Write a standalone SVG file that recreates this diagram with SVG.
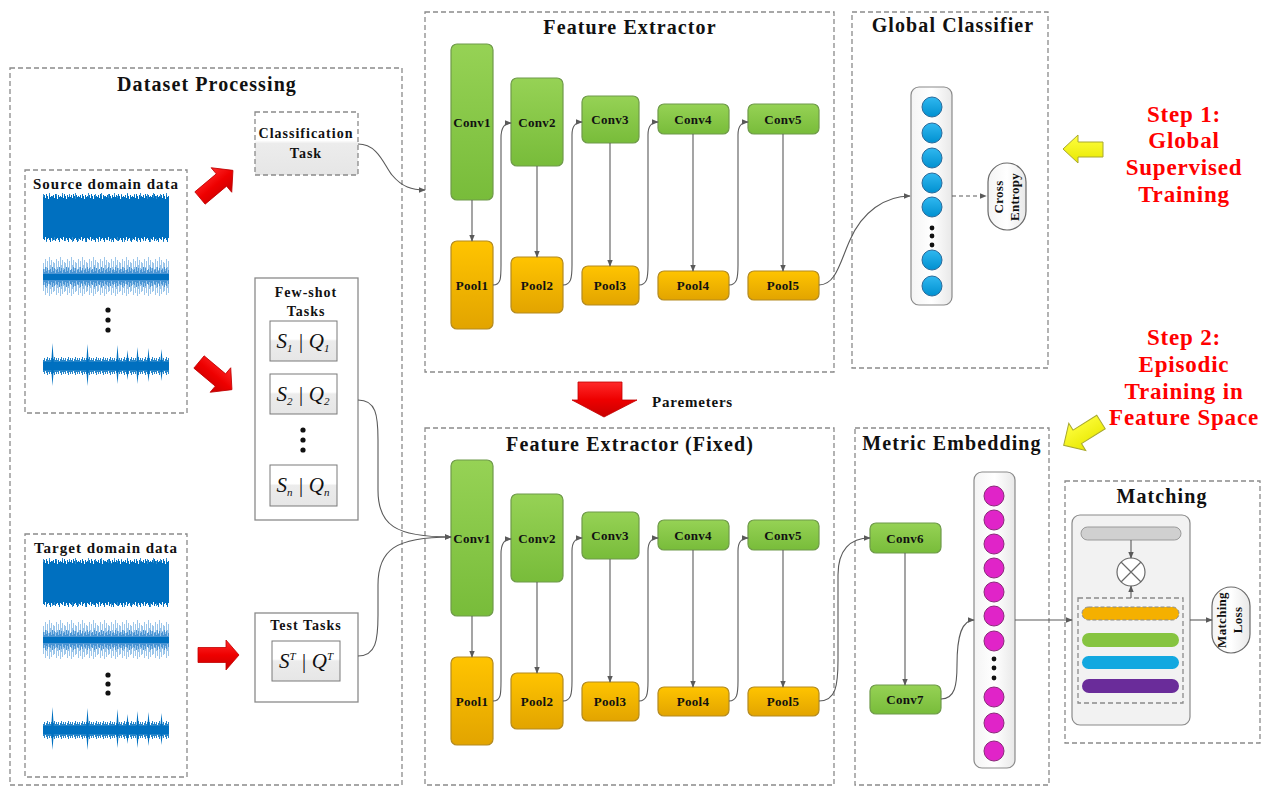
<svg xmlns="http://www.w3.org/2000/svg" width="1261" height="787" viewBox="0 0 1261 787">
<style>
text{font-family:"Liberation Serif","Times New Roman",serif;fill:#111}
.t{font-size:20px;font-weight:bold;text-anchor:middle;letter-spacing:1.1px}
.s{font-size:14px;font-weight:bold;text-anchor:middle;letter-spacing:1px}
.n{font-size:13px;font-weight:bold;text-anchor:middle;letter-spacing:0.3px}
.step{font-size:23px;font-weight:bold;text-anchor:middle;fill:#FF0000;letter-spacing:0.8px}
.m{font-size:21px;font-style:italic;text-anchor:middle}
.dash{fill:none;stroke:#8a8a8a;stroke-width:1.3;stroke-dasharray:5,3}
.box{fill:#fff;stroke:#8a8a8a;stroke-width:1.3}
.conv{fill:url(#gG);stroke:#6f9a4a;stroke-width:1.2}
.pool{fill:url(#gO);stroke:#b38a20;stroke-width:1.2}
.c{fill:none;stroke:#5a5a5a;stroke-width:1.1;marker-end:url(#ah)}
.bc{fill:url(#gB);stroke:#2a6a9a;stroke-width:1}
.mc{fill:#E024C8;stroke:#8a2a7a;stroke-width:1}
.dot{fill:#111}
.red{fill:url(#gR);stroke:#c00000;stroke-width:0.8}
.yel{fill:url(#gY);stroke:#a8a830;stroke-width:1}
.mbox{fill:url(#gW);stroke:#7a7a7a;stroke-width:1}
</style>
<defs>
<marker id="ah" viewBox="0 0 10 10" refX="9" refY="5" markerWidth="7" markerHeight="7" orient="auto" markerUnits="userSpaceOnUse"><path d="M0,1 L10,5 L0,9 Z" fill="#5a5a5a"/></marker>
<linearGradient id="gG" x1="0" y1="0" x2="0" y2="1"><stop offset="0" stop-color="#96D255"/><stop offset="1" stop-color="#78BC3A"/></linearGradient>
<linearGradient id="gO" x1="0" y1="0" x2="0" y2="1"><stop offset="0" stop-color="#FFC400"/><stop offset="1" stop-color="#E2A400"/></linearGradient>
<linearGradient id="gB" x1="0" y1="0" x2="0" y2="1"><stop offset="0" stop-color="#30B8F0"/><stop offset="1" stop-color="#0090D0"/></linearGradient>
<linearGradient id="gW" x1="0" y1="0" x2="0" y2="1"><stop offset="0" stop-color="#ffffff"/><stop offset="0.45" stop-color="#ffffff"/><stop offset="0.5" stop-color="#ececec"/><stop offset="1" stop-color="#e6e6e6"/></linearGradient>
<linearGradient id="gCol" x1="0" y1="0" x2="1" y2="0"><stop offset="0" stop-color="#f4f4f4"/><stop offset="0.5" stop-color="#ffffff"/><stop offset="1" stop-color="#e8e8e8"/></linearGradient>
<linearGradient id="gR" x1="0" y1="0" x2="0" y2="1"><stop offset="0" stop-color="#ff2a2a"/><stop offset="0.5" stop-color="#ee0000"/><stop offset="1" stop-color="#c80000"/></linearGradient>
<linearGradient id="gY" x1="0" y1="0" x2="0" y2="1"><stop offset="0" stop-color="#ffff40"/><stop offset="1" stop-color="#e8e800"/></linearGradient>
<pattern id="p1" patternUnits="userSpaceOnUse" x="0" y="-25" width="9" height="50"><path d="M0.5,4V46M1.5,2V47M2.5,5V44M3.5,1V48M4.5,3V46M5.5,6V45M6.5,2V47M7.5,4V49M8.5,3V45" stroke="#0070C0" stroke-width="1"/></pattern>
<pattern id="p1b" patternUnits="userSpaceOnUse" x="0" y="-25" width="13" height="50"><path d="M0.5,1V44M3.5,5V49M6.5,0V43M9.5,3V48M11.5,6V47" stroke="#0070C0" stroke-width="0.8"/></pattern>
<pattern id="p2" patternUnits="userSpaceOnUse" x="0" y="-22" width="11" height="44"><path d="M0.5,8V36M1.5,14V30M2.5,4V40M3.5,12V33M4.5,6V38M5.5,15V29M6.5,2V41M7.5,10V34M8.5,5V39M9.5,13V31M10.5,7V37" stroke="#9CC6EA" stroke-width="1"/></pattern>
<pattern id="p2b" patternUnits="userSpaceOnUse" x="0" y="-22" width="7" height="44"><path d="M0.5,14V30M1.5,17V27M2.5,12V32M3.5,16V28M4.5,13V31M5.5,18V26M6.5,15V29" stroke="#4A95D4" stroke-width="1"/></pattern>
<pattern id="p3" patternUnits="userSpaceOnUse" x="0" y="-10" width="7" height="20"><path d="M0.5,4V16M1.5,2V18M2.5,5V15M3.5,3V17M4.5,1V19M5.5,4V16M6.5,2V18" stroke="#0070C0" stroke-width="1"/></pattern>
<g id="sig1"><rect x="0" y="-25" width="126" height="50" fill="url(#p1)"/><rect x="0" y="-25" width="126" height="50" fill="url(#p1b)"/><rect x="0" y="-18" width="126" height="36" fill="#0070C0"/></g>
<g id="sig2"><rect x="0" y="-22" width="126" height="44" fill="url(#p2)"/><rect x="0" y="-22" width="126" height="44" fill="url(#p2b)"/><rect x="0" y="-3" width="126" height="6" fill="#0070C0"/></g>
<g id="sig3"><rect x="0" y="-10" width="126" height="20" fill="url(#p3)" opacity="0.85"/><rect x="0" y="-4" width="126" height="8" fill="#0070C0"/>
<path d="M8,0L9.5,-23L11,0L9.5,20ZM43,0L44.5,-22L46,0L44.5,20ZM73,0L74.5,-21L76,0L74.5,18ZM83,0L84.5,-16L86,0L84.5,14ZM93,0L94.5,-19L96,0L94.5,18ZM104,0L105.5,-18L107,0L105.5,16ZM117,0L118.5,-17L120,0L118.5,15Z" fill="#0070C0"/></g>
</defs>
<rect width="1261" height="787" fill="#fff"/>

<!-- Dataset processing -->
<g id="dataset">
<rect class="dash" x="10" y="68" width="392" height="717"/>
<text class="t" x="207" y="91">Dataset Processing</text>
</g>
<g id="source">
<rect class="dash" x="25" y="170" width="162" height="243"/>
<text class="s" x="106" y="189" style="font-size:15px">Source domain data</text>
<use href="#sig1" x="43" y="218"/>
<use href="#sig2" x="43" y="277"/>
<circle class="dot" cx="108" cy="310" r="2.6"/><circle class="dot" cx="108" cy="320" r="2.6"/><circle class="dot" cx="108" cy="330" r="2.6"/>
<use href="#sig3" x="43" y="366"/>
</g>
<g id="target">
<rect class="dash" x="25" y="534" width="162" height="243"/>
<text class="s" x="106" y="553" style="font-size:15px">Target domain data</text>
<use href="#sig1" x="43" y="583"/>
<use href="#sig2" x="43" y="640"/>
<circle class="dot" cx="108" cy="675" r="2.6"/><circle class="dot" cx="108" cy="684" r="2.6"/><circle class="dot" cx="108" cy="693" r="2.6"/>
<use href="#sig3" x="43" y="730"/>
</g>
<g id="classTask">
<rect x="255" y="112" width="103" height="63" fill="url(#gW)"/>
<rect class="dash" x="255" y="112" width="103" height="63"/>
<text class="s" x="306" y="138">Classification</text>
<text class="s" x="306" y="158">Task</text>
</g>
<g id="fewShot">
<rect class="box" x="255" y="278" width="103" height="242"/>
<text class="s" x="306" y="297">Few-shot</text>
<text class="s" x="306" y="316">Tasks</text>
<rect class="mbox" x="270" y="321" width="67" height="40"/>
<text class="m" x="303" y="348">S<tspan font-size="11" dy="4">1</tspan><tspan dy="-4"> | Q</tspan><tspan font-size="11" dy="4">1</tspan></text>
<rect class="mbox" x="270" y="374" width="67" height="40"/>
<text class="m" x="303" y="401">S<tspan font-size="11" dy="4">2</tspan><tspan dy="-4"> | Q</tspan><tspan font-size="11" dy="4">2</tspan></text>
<circle class="dot" cx="303" cy="430" r="2.6"/><circle class="dot" cx="303" cy="440" r="2.6"/><circle class="dot" cx="303" cy="450" r="2.6"/>
<rect class="mbox" x="270" y="465" width="67" height="41"/>
<text class="m" x="303" y="492">S<tspan font-size="11" dy="4">n</tspan><tspan dy="-4"> | Q</tspan><tspan font-size="11" dy="4">n</tspan></text>
</g>
<g id="testTasks">
<rect class="box" x="255" y="613" width="103" height="89"/>
<text class="s" x="306" y="630">Test Tasks</text>
<rect class="mbox" x="272" y="641" width="68" height="40"/>
<text class="m" x="306" y="668">S<tspan font-size="11" dy="-8">T</tspan><tspan dy="8"> | Q</tspan><tspan font-size="11" dy="-8">T</tspan></text>
</g>

<!-- red arrows -->
<g id="redArrows">
<polygon class="red" points="0,-8 28,-8 28,-16 43,0 28,16 28,8 0,8" transform="translate(200,198) rotate(-40)"/>
<polygon class="red" points="0,-8 28,-8 28,-16 43,0 28,16 28,8 0,8" transform="translate(199,362) rotate(40)"/>
<polygon class="red" points="0,-7.5 28,-7.5 28,-15 41,0 28,15 28,7.5 0,7.5" transform="translate(198,655)"/>
<polygon class="red" points="578,382 622,382 622,400 637,400 604,417 572,400 578,400"/>
<text x="652" y="407" style="font-size:15px;font-weight:bold;letter-spacing:0.8px">Paremeters</text>
</g>

<!-- Feature extractor top -->
<g id="fe1">
<rect class="dash" x="425" y="12" width="409" height="360"/>
<text class="t" x="630" y="34">Feature Extractor</text>
</g>
<g id="conv1a"><rect class="conv" x="451" y="44" width="42" height="156" rx="6"/><text class="n" x="472" y="127">Conv1</text></g>
<g id="pool1a"><rect class="pool" x="451" y="241" width="42" height="88" rx="6"/><text class="n" x="472" y="290">Pool1</text></g>
<g id="conv2a"><rect class="conv" x="511" y="78" width="52" height="88" rx="6"/><text class="n" x="537" y="127">Conv2</text></g>
<g id="pool2a"><rect class="pool" x="511" y="257" width="52" height="56" rx="6"/><text class="n" x="537" y="290">Pool2</text></g>
<g id="conv3a"><rect class="conv" x="582" y="96" width="57" height="47" rx="6"/><text class="n" x="610" y="124">Conv3</text></g>
<g id="pool3a"><rect class="pool" x="582" y="266" width="57" height="39" rx="6"/><text class="n" x="610" y="290">Pool3</text></g>
<g id="conv4a"><rect class="conv" x="658" y="104" width="71" height="30" rx="6"/><text class="n" x="693" y="124">Conv4</text></g>
<g id="pool4a"><rect class="pool" x="658" y="271" width="71" height="29" rx="6"/><text class="n" x="693" y="290">Pool4</text></g>
<g id="conv5a"><rect class="conv" x="748" y="104" width="71" height="30" rx="6"/><text class="n" x="783" y="124">Conv5</text></g>
<g id="pool5a"><rect class="pool" x="748" y="271" width="71" height="29" rx="6"/><text class="n" x="783" y="290">Pool5</text></g>

<!-- Global classifier -->
<g id="globalClassifier">
<rect class="dash" x="852" y="12" width="196" height="356"/>
<text class="t" x="953" y="32">Global Classifier</text>
<rect x="911" y="87" width="41" height="218" rx="8" fill="url(#gCol)" stroke="#8a8a8a" stroke-width="1.2"/>
<circle class="bc" cx="932" cy="107" r="10"/><circle class="bc" cx="932" cy="133" r="10"/><circle class="bc" cx="932" cy="158" r="10"/><circle class="bc" cx="932" cy="183" r="10"/><circle class="bc" cx="932" cy="207" r="10"/>
<circle class="dot" cx="932" cy="228" r="2.4"/><circle class="dot" cx="932" cy="236" r="2.4"/><circle class="dot" cx="932" cy="245" r="2.4"/>
<circle class="bc" cx="932" cy="260" r="10"/><circle class="bc" cx="932" cy="286" r="10"/>
</g>
<g id="crossEntropy">
<rect x="988" y="163" width="38" height="67" rx="19" fill="url(#gCol)" stroke="#6a6a6a" stroke-width="1.2"/>
<text class="n" transform="translate(1003,197) rotate(-90)">Cross</text>
<text class="n" transform="translate(1019,197) rotate(-90)">Entropy</text>
</g>

<!-- Steps -->
<g id="step1">
<text class="step" x="1184" y="122">Step 1:</text>
<text class="step" x="1184" y="148">Global</text>
<text class="step" x="1184" y="175">Supervised</text>
<text class="step" x="1184" y="202">Training</text>
<polygon class="yel" points="1103,142 1078,142 1078,135 1063,149 1078,163 1078,157 1103,157"/>
</g>
<g id="step2">
<text class="step" x="1184" y="345">Step 2:</text>
<text class="step" x="1184" y="372">Episodic</text>
<text class="step" x="1184" y="399">Training in</text>
<text class="step" x="1184" y="425">Feature Space</text>
<polygon class="yel" points="0,-8 -28,-8 -28,-16 -44,0 -28,16 -28,8 0,8" transform="translate(1101,422) rotate(-32)"/>
</g>

<!-- Feature extractor fixed -->
<g id="fe2">
<rect class="dash" x="425" y="428" width="409" height="357"/>
<text class="t" x="630" y="451">Feature Extractor (Fixed)</text>
</g>
<g id="conv1b"><rect class="conv" x="451" y="460" width="42" height="156" rx="6"/><text class="n" x="472" y="543">Conv1</text></g>
<g id="pool1b"><rect class="pool" x="451" y="657" width="42" height="88" rx="6"/><text class="n" x="472" y="706">Pool1</text></g>
<g id="conv2b"><rect class="conv" x="511" y="494" width="52" height="88" rx="6"/><text class="n" x="537" y="543">Conv2</text></g>
<g id="pool2b"><rect class="pool" x="511" y="673" width="52" height="56" rx="6"/><text class="n" x="537" y="706">Pool2</text></g>
<g id="conv3b"><rect class="conv" x="582" y="512" width="57" height="47" rx="6"/><text class="n" x="610" y="540">Conv3</text></g>
<g id="pool3b"><rect class="pool" x="582" y="682" width="57" height="39" rx="6"/><text class="n" x="610" y="706">Pool3</text></g>
<g id="conv4b"><rect class="conv" x="658" y="520" width="71" height="30" rx="6"/><text class="n" x="693" y="540">Conv4</text></g>
<g id="pool4b"><rect class="pool" x="658" y="687" width="71" height="29" rx="6"/><text class="n" x="693" y="706">Pool4</text></g>
<g id="conv5b"><rect class="conv" x="748" y="520" width="71" height="30" rx="6"/><text class="n" x="783" y="540">Conv5</text></g>
<g id="pool5b"><rect class="pool" x="748" y="687" width="71" height="29" rx="6"/><text class="n" x="783" y="706">Pool5</text></g>

<!-- Metric embedding -->
<g id="metricEmbedding">
<rect class="dash" x="855" y="428" width="194" height="357"/>
<text class="t" x="952" y="450">Metric Embedding</text>
<rect x="974" y="472" width="41" height="296" rx="8" fill="url(#gCol)" stroke="#8a8a8a" stroke-width="1.2"/>
<circle class="mc" cx="994" cy="496" r="10"/><circle class="mc" cx="994" cy="520" r="10"/><circle class="mc" cx="994" cy="544" r="10"/><circle class="mc" cx="994" cy="568" r="10"/><circle class="mc" cx="994" cy="592" r="10"/><circle class="mc" cx="994" cy="616" r="10"/><circle class="mc" cx="994" cy="641" r="10"/>
<circle class="dot" cx="994" cy="659" r="2.4"/><circle class="dot" cx="994" cy="668" r="2.4"/><circle class="dot" cx="994" cy="678" r="2.4"/>
<circle class="mc" cx="994" cy="697" r="10"/><circle class="mc" cx="994" cy="723" r="10"/><circle class="mc" cx="994" cy="751" r="10"/>
</g>
<g id="conv6"><rect class="conv" x="870" y="523" width="71" height="30" rx="6"/><text class="n" x="905" y="543">Conv6</text></g>
<g id="conv7"><rect class="conv" x="870" y="685" width="71" height="29" rx="6"/><text class="n" x="905" y="704">Conv7</text></g>

<!-- Matching -->
<g id="matching">
<rect class="dash" x="1065" y="481" width="195" height="262"/>
<text class="t" x="1162" y="503">Matching</text>
<rect x="1072" y="515" width="118" height="210" rx="8" fill="#f2f2f2" stroke="#8a8a8a" stroke-width="1.2"/>
<rect x="1081" y="527" width="100" height="13" rx="6.5" fill="#d0d0d0" stroke="#9a9a9a" stroke-width="1"/>
<circle cx="1131" cy="572" r="14" fill="#fff" stroke="#6a6a6a" stroke-width="1.2"/>
<path d="M1121,562L1141,582M1141,562L1121,582" stroke="#6a6a6a" stroke-width="1.2"/>
<rect class="dash" x="1078" y="598" width="105" height="105"/>
<rect x="1082" y="607" width="97" height="13" rx="6.5" fill="#F5B000" stroke="#8a8a8a" stroke-width="1" stroke-dasharray="4,2"/>
<rect x="1082" y="633" width="97" height="14" rx="7" fill="#86C440"/>
<rect x="1082" y="656" width="97" height="13" rx="6.5" fill="#12A8E0"/>
<rect x="1082" y="679" width="97" height="14" rx="7" fill="#6A2C9A"/>
</g>
<g id="matchingLoss">
<rect x="1212" y="587" width="38" height="66" rx="19" fill="url(#gCol)" stroke="#6a6a6a" stroke-width="1.2"/>
<text class="n" transform="translate(1226,620) rotate(-90)">Matching</text>
<text class="n" transform="translate(1242,620) rotate(-90)">Loss</text>
</g>

<!-- connectors -->
<g id="connectors">
<path class="c" d="M358,144 C378,144 384,165 392,175 C402,187 412,190 425,190"/>
<path class="c" d="M472,200 V241"/><path class="c" d="M537,166 V257"/><path class="c" d="M610,143 V266"/><path class="c" d="M693,134 V271"/><path class="c" d="M783,134 V271"/>
<path class="c" d="M493,285 C501,285 501,278 501,265 L501,138 C501,128 504,123 511,123"/>
<path class="c" d="M563,285 C571,285 572,278 572,265 L572,135 C572,126 575,122 582,122"/>
<path class="c" d="M639,285 C647,285 648,278 648,265 L648,135 C648,126 651,122 658,122"/>
<path class="c" d="M729,285 C737,285 738,278 738,265 L738,135 C738,126 741,122 748,122"/>
<path class="c" d="M819,285 C836,285 840,262 850,240 C862,212 885,196 910,196"/>
<path d="M952,196 H986" fill="none" stroke="#5a5a5a" stroke-width="1.1" stroke-dasharray="4,3" marker-end="url(#ah)"/>
<path class="c" d="M358,400 C376,400 378,415 378,440 L378,490 C378,525 395,537 451,537"/>
<path class="c" d="M358,656 C376,656 378,640 378,615 L378,585 C378,550 395,537 451,537"/>
<path class="c" d="M472,616 V657"/><path class="c" d="M537,582 V673"/><path class="c" d="M610,559 V682"/><path class="c" d="M693,550 V687"/><path class="c" d="M783,550 V687"/>
<path class="c" d="M493,701 C501,701 501,694 501,681 L501,554 C501,544 504,539 511,539"/>
<path class="c" d="M563,701 C571,701 572,694 572,681 L572,551 C572,542 575,538 582,538"/>
<path class="c" d="M639,701 C647,701 648,694 648,681 L648,551 C648,542 651,538 658,538"/>
<path class="c" d="M729,701 C737,701 738,694 738,681 L738,551 C738,542 741,538 748,538"/>
<path class="c" d="M819,701 C836,701 838,685 838,660 L838,575 C838,550 850,538 870,538"/>
<path class="c" d="M905,553 V685"/>
<path class="c" d="M941,699 C955,699 957,685 957,665 C957,635 962,620 974,620"/>
<path class="c" d="M1015,620 H1072"/>
<path class="c" d="M1131,540 V558"/>
<path class="c" d="M1131,598 V586"/>
<path class="c" d="M1190,620 H1212"/>
</g>
</svg>
